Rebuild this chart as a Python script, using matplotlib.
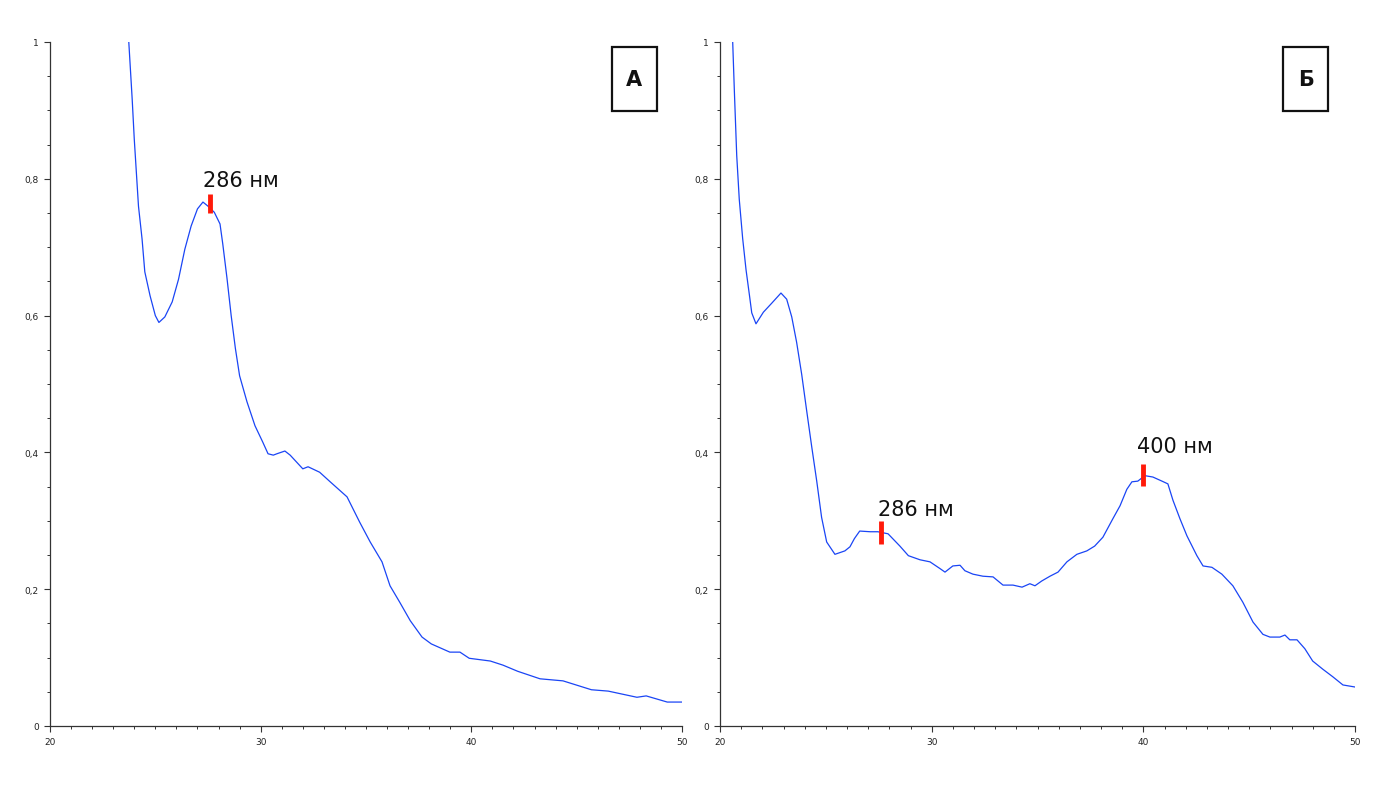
import matplotlib
matplotlib.use("Agg")
import matplotlib.pyplot as plt
from matplotlib.patches import Rectangle
from matplotlib.ticker import MultipleLocator

# ---- data ----
xa = [23.74, 23.9, 24.0, 24.2, 24.37, 24.5, 24.75, 25.0, 25.17, 25.45, 25.8, 26.1,
      26.4, 26.7, 27.0, 27.26, 27.5, 27.8, 28.07, 28.2, 28.4, 28.6, 28.8,
      29.0, 29.35, 29.73, 30.1, 30.35, 30.6, 30.77, 31.15, 31.4, 31.7, 32.0, 32.25,
      32.8, 33.3, 34.1, 34.7, 35.2, 35.76, 36.14, 36.6, 37.1, 37.66, 38.1, 38.98,
      39.46, 39.9, 40.9, 41.5, 42.2, 43.26, 44.35, 45.7, 46.5, 47.86, 48.3, 49.3, 50.0]
ya = [1.0, 0.917, 0.858, 0.76, 0.712, 0.664, 0.629, 0.60, 0.59, 0.598, 0.62, 0.653,
      0.697, 0.731, 0.756, 0.766, 0.76, 0.751, 0.734, 0.705, 0.655, 0.60, 0.552,
      0.512, 0.474, 0.439, 0.415, 0.398, 0.396, 0.398, 0.402, 0.396, 0.386, 0.376, 0.379,
      0.371, 0.357, 0.335, 0.298, 0.269, 0.24, 0.205, 0.181, 0.154, 0.13, 0.12, 0.108,
      0.108, 0.099, 0.095, 0.089, 0.08, 0.069, 0.066, 0.053, 0.051, 0.042, 0.044, 0.035, 0.035]

xb = [20.6, 20.68, 20.79, 20.91, 21.07, 21.23, 21.39, 21.5, 21.7, 22.05, 22.44, 22.88,
      23.15, 23.39, 23.62, 23.86, 24.09, 24.33, 24.57, 24.8, 25.04, 25.43, 25.9, 26.14,
      26.35, 26.6, 27.1, 27.46, 27.94, 28.5, 28.9, 29.45, 29.92, 30.4, 30.63, 31.0,
      31.34, 31.57, 31.95, 32.42, 32.9, 33.37, 33.84, 34.27, 34.64, 34.88, 35.2, 35.59,
      35.97, 36.39, 36.86, 37.33, 37.7, 38.09, 38.56, 38.9, 39.22, 39.46, 39.74, 40.07,
      40.45, 40.88, 41.16, 41.4, 41.73, 42.06, 42.53, 42.82, 43.24, 43.71, 44.23, 44.7,
      45.18, 45.65, 45.98, 46.45, 46.69, 46.92, 47.26, 47.63, 48.0, 48.48, 48.95, 49.43, 50.0]
yb = [1.0, 0.927, 0.834, 0.77, 0.713, 0.667, 0.63, 0.604, 0.588, 0.605, 0.618, 0.633,
      0.624, 0.598, 0.561, 0.514, 0.462, 0.409, 0.358, 0.305, 0.269, 0.251, 0.256, 0.262,
      0.274, 0.285, 0.284, 0.284, 0.281, 0.263, 0.249, 0.243, 0.24, 0.23, 0.225, 0.234,
      0.235, 0.227, 0.222, 0.219, 0.218, 0.206, 0.206, 0.203, 0.208, 0.205, 0.212, 0.219,
      0.225, 0.24, 0.251, 0.256, 0.263, 0.276, 0.303, 0.322, 0.346, 0.357, 0.358, 0.366,
      0.364, 0.358, 0.354, 0.33, 0.303, 0.278, 0.249, 0.234, 0.232, 0.222, 0.205, 0.181,
      0.152, 0.134, 0.13, 0.13, 0.133, 0.126, 0.126, 0.113, 0.095, 0.083, 0.072, 0.06, 0.057]

xticks = [20, 30, 40, 50]
xticklabels = ["20", "30", "40", "50"]
yticks = [0, 0.2, 0.4, 0.6, 0.8, 1.0]
yticklabels = ["0", "0,2", "0,4", "0,6", "0,8", "1"]

panel_labels = ["А", "Б"]
# peak annotations: (x, y_low, y_high, label_x, label_y, text)
peaks_a = [(27.6, 0.750, 0.778, 27.26, 0.79, "286 нм")]
peaks_b = [(27.6, 0.266, 0.300, 27.46, 0.308, "286 нм"),
           (39.98, 0.351, 0.383, 39.72, 0.40, "400 нм")]

# ---- figure ----
W, H = 1388, 812
fig = plt.figure(figsize=(W / 100, H / 100), dpi=100)
fig.patch.set_facecolor("white")

axA = fig.add_axes([50 / W, (H - 727) / H, 632 / W, 684 / H])
axB = fig.add_axes([720 / W, (H - 727) / H, 635 / W, 684 / H])

line_color = "#1a45f5"
for ax, x, y, lab, peaks, box_x in [(axA, xa, ya, panel_labels[0], peaks_a, 0.889),
                                    (axB, xb, yb, panel_labels[1], peaks_b, 0.887)]:
    ax.plot(x, y, color=line_color, lw=0.9, clip_on=True, solid_joinstyle="round")
    ax.set_xlim(20, 50)
    ax.set_ylim(0, 1)
    ax.set_xticks(xticks)
    ax.set_xticklabels(xticklabels)
    ax.set_yticks(yticks)
    ax.set_yticklabels(yticklabels)
    ax.xaxis.set_minor_locator(MultipleLocator(1))
    ax.yaxis.set_minor_locator(MultipleLocator(0.05))
    for s in ["top", "right"]:
        ax.spines[s].set_visible(False)
    for s in ["left", "bottom"]:
        ax.spines[s].set_color("#333333")
        ax.spines[s].set_linewidth(0.9)
    ax.tick_params(axis="both", which="major", direction="out", length=4,
                   width=0.8, color="#333333", labelsize=6.5, labelcolor="#222222", pad=4)
    ax.tick_params(axis="both", which="minor", direction="out", length=2,
                   width=0.7, color="#333333")
    ax.set_facecolor("white")

    for (px, y0, y1, tx, ty, txt) in peaks:
        ax.plot([px, px], [y0, y1], color="#ff1a0a", lw=3.5, solid_capstyle="butt", zorder=5)
        ax.text(tx, ty, txt, fontsize=15, color="#111111", ha="left", va="baseline",
                family="DejaVu Sans")

    rect = Rectangle((box_x, 0.899), 0.071, 0.094, transform=ax.transAxes,
                     facecolor="white", edgecolor="#111111", lw=1.6, zorder=6, clip_on=False)
    ax.add_patch(rect)
    ax.text(box_x + 0.0355, 0.946, lab, transform=ax.transAxes, ha="center", va="center",
            fontsize=15, fontweight="bold", color="#111111", zorder=7)

fig.savefig("out.png", dpi=100, facecolor="white")
